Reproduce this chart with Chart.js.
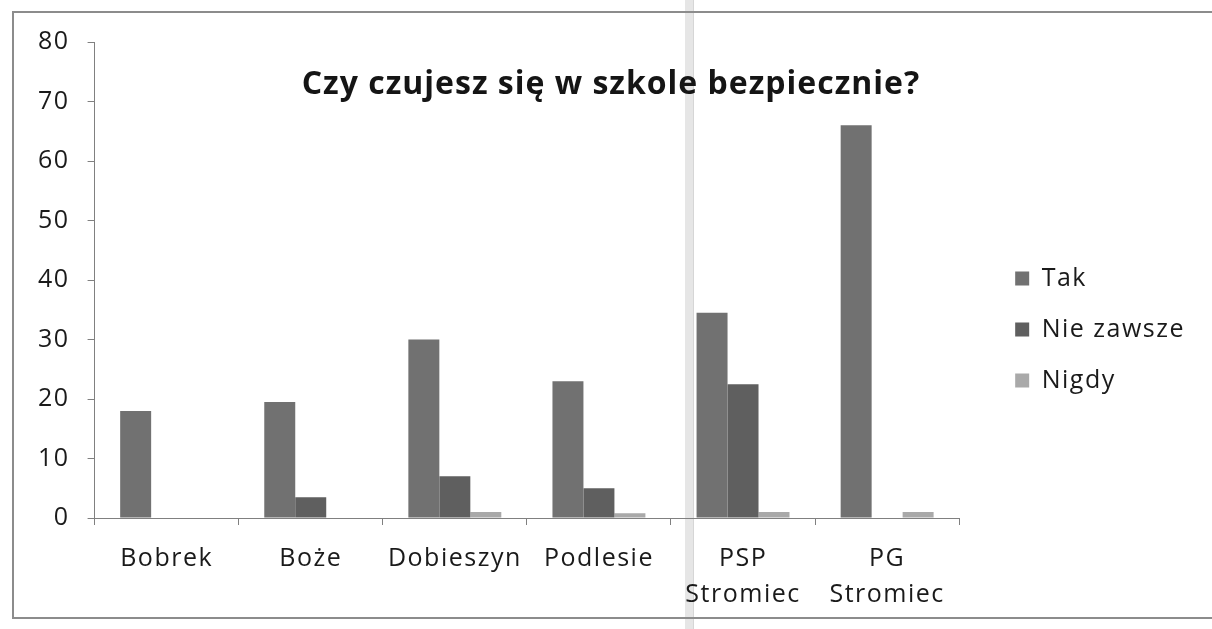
<!DOCTYPE html>
<html>
<head>
<meta charset="utf-8">
<script src="https://cdn.jsdelivr.net/npm/chart.js@4"></script>
<style>
  body { margin: 0; background: #fff; overflow: hidden; }
  #frame { position: absolute; left: 12px; top: 11px; width: 1210px; height: 608px; border: 2px solid #8c8c8c; border-right: none; box-sizing: border-box; }
  #wrap { position: absolute; left: 0; top: 0; width: 1212px; height: 629px; }
  #title { position: absolute; left: 290px; width: 642px; top: 60px; text-align: center; white-space: nowrap;
           font: bold 32px "Open Sans", sans-serif; letter-spacing: 1px; color: #151515; }
  #stripe { position: absolute; left: 685px; top: 0; width: 8px; height: 629px; background: #e6e6e6; border-right: 1px solid #d6d6d6; }
</style>
</head>
<body>
<div id="stripe"></div>
<div id="frame"></div>
<div id="wrap"><canvas id="chart"></canvas></div>
<div id="title">Czy czujesz się w szkole bezpiecznie?</div>
<script>
const schools = ["Bobrek", "Boże", "Dobieszyn", "Podlesie", ["PSP", "Stromiec"], ["PG", "Stromiec"]];
const tak = [18, 19.5, 30, 23, 34.5, 66];
const nieZawsze = [0, 3.5, 7, 5, 22.5, 0];
const nigdy = [0, 0, 1, 0.8, 1, 1];

const font = "'Open Sans', sans-serif";

// the scanned original has widely spaced lettering
const spacing = {
    id: "spacing",
    beforeUpdate(chart) { chart.ctx.letterSpacing = "1.5px"; },
    beforeDraw(chart) { chart.ctx.letterSpacing = "1.5px"; },
    afterLayout(chart) {
        // legend sits a bit right of the plot
        const lg = chart.legend;
        lg.left += 30; lg.right += 30;
        lg.top -= 6; lg.bottom -= 6;
    }
};

new Chart(document.getElementById("chart"), {
    type: "bar",
    data: {
        labels: schools,
        datasets: [
            { label: "Tak", data: tak, backgroundColor: "#717171" },
            { label: "Nie zawsze", data: nieZawsze, backgroundColor: "#5f5f5f" },
            { label: "Nigdy", data: nigdy, backgroundColor: "#a9a9a9" }
        ]
    },
    plugins: [spacing],
    options: {
        responsive: true,
        maintainAspectRatio: false,
        animation: false,
        layout: { padding: { top: 42, left: 20, right: 47, bottom: 0 } },
        datasets: { bar: { categoryPercentage: 0.645, barPercentage: 1 } },
        plugins: {
            legend: {
                position: "right",
                labels: {
                    boxWidth: 14, boxHeight: 14, padding: 26,
                    color: "#1a1a1a",
                    font: { family: font, size: 25 }
                }
            },
            tooltip: { enabled: false }
        },
        scales: {
            x: {
                grid: { drawOnChartArea: false, color: "#808080", tickLength: 7, offset: true },
                border: { color: "#808080" },
                ticks: { color: "#1a1a1a", padding: 16, font: { family: font, size: 25, lineHeight: 1.44 } }
            },
            y: {
                min: 0, max: 80,
                grid: { drawOnChartArea: false, color: "#808080", tickLength: 7 },
                border: { color: "#808080" },
                ticks: { stepSize: 10, color: "#1a1a1a", padding: 18, font: { family: font, size: 25 } }
            }
        }
    }
});
</script>
</body>
</html>
